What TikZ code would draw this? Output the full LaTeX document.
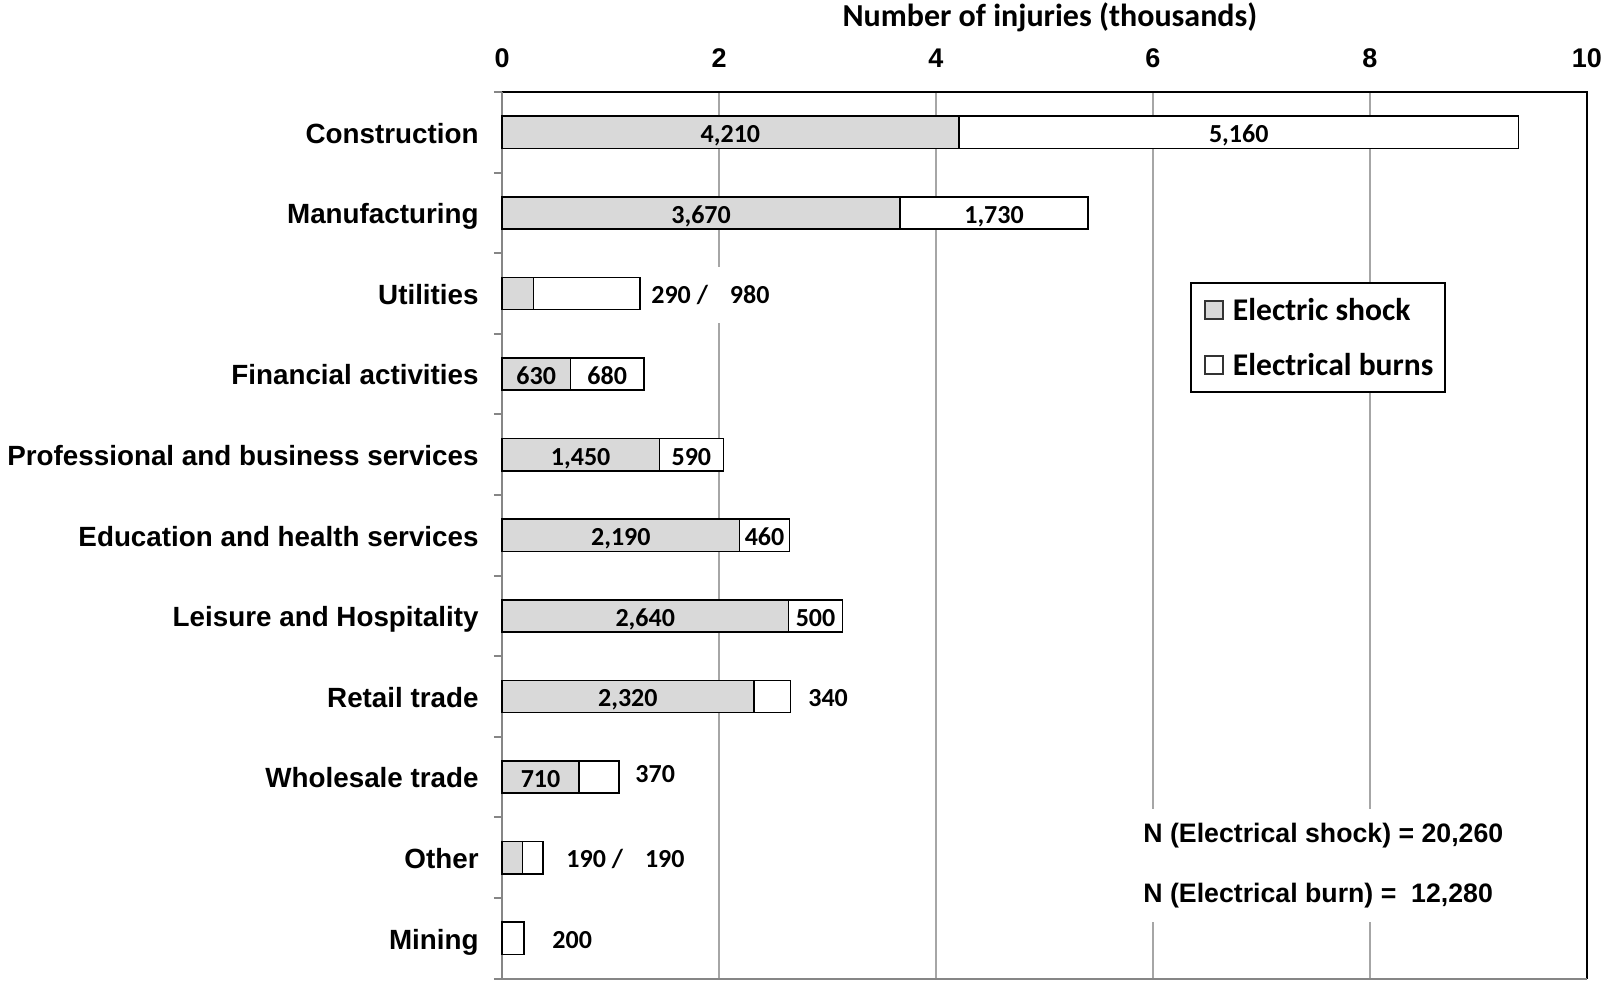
\documentclass[tikz,border=0pt]{standalone}
\usepackage{fontspec}
\usetikzlibrary{positioning}
\newfontfamily\arialfont{Liberation Sans}
\newfontfamily\calibrifont{Carlito}
\definecolor{shockgray}{HTML}{D9D9D9}
\definecolor{gridgray}{HTML}{A6A6A6}
\definecolor{axisgray}{HTML}{868686}

\begin{document}
\begin{tikzpicture}[x=54.25pt, y=-40.3pt,
    shock/.style={draw=black, line width=0.8pt, fill=shockgray},
    burn/.style={draw=black, line width=0.8pt, fill=white},
    gridline/.style={draw=gridgray, line width=0.8pt},
    axisline/.style={draw=axisgray, line width=1pt},
    frameline/.style={draw=black, line width=0.9pt},
    category/.style={anchor=base east, inner sep=0pt, font=\fontsize{13.9}{16}\selectfont\arialfont\bfseries},
    barlabel/.style={anchor=base, inner sep=0pt, font=\fontsize{13}{15}\selectfont\calibrifont\bfseries},
    outlabel/.style={inner sep=0pt, anchor=west, fill=white, minimum height=28pt,
        font=\fontsize{13}{15}\selectfont\calibrifont\bfseries},
    ticklabel/.style={inner sep=0pt, font=\fontsize{13.5}{16}\selectfont\arialfont\bfseries},
    titlelabel/.style={inner sep=0pt, font=\fontsize{16}{18}\selectfont\calibrifont\bfseries},
    keybox/.style={draw=black!80, line width=0.6pt, minimum size=9pt, inner sep=0pt},
    legendtext/.style={inner sep=0pt, anchor=west, font=\fontsize{15.8}{18}\selectfont\calibrifont\bfseries},
    totals/.style={anchor=west, align=left, fill=white, inner xsep=0pt, inner ysep=7pt,
        font=\fontsize{13.35}{30}\selectfont\arialfont\bfseries}]
    \useasboundingbox (-4.627,-1.1414) rectangle (10.203,11.067);

    % grid
    \draw[gridline] (2,0) -- (2,11);
    \draw[gridline] (4,0) -- (4,11);
    \draw[gridline] (6,0) -- (6,11);
    \draw[gridline] (8,0) -- (8,11);

    % frame and axes
    \draw[frameline] (0,0) -- (10,0) -- (10,11);
    \draw[axisline] (10,11) -- (0,11) -- (0,0);
    \draw[axisline] (-0.074,0) -- (0,0) (-0.074,1) -- (0,1) (-0.074,2) -- (0,2)
        (-0.074,3) -- (0,3) (-0.074,4) -- (0,4) (-0.074,5) -- (0,5)
        (-0.074,6) -- (0,6) (-0.074,7) -- (0,7) (-0.074,8) -- (0,8)
        (-0.074,9) -- (0,9) (-0.074,10) -- (0,10) (-0.074,11) -- (0,11);

    \node[titlelabel] (title) at (5.05,-0.924) {Number of injuries (thousands)};
    \node[ticklabel] (t0) at (0,-0.422) {0};
    \node[ticklabel] (t2) at (2,-0.422) {2};
    \node[ticklabel] (t4) at (4,-0.422) {4};
    \node[ticklabel] (t6) at (6,-0.422) {6};
    \node[ticklabel] (t8) at (8,-0.422) {8};
    \node[ticklabel] (t10) at (10,-0.422) {10};

    % bars
    \draw[shock] (0,0.3) rectangle (4.21,0.7);
    \draw[burn] (4.21,0.3) rectangle (9.37,0.7);
    \draw[shock] (0,1.3) rectangle (3.67,1.7);
    \draw[burn] (3.67,1.3) rectangle (5.40,1.7);
    \draw[shock] (0,2.3) rectangle (0.29,2.7);
    \draw[burn] (0.29,2.3) rectangle (1.27,2.7);
    \draw[shock] (0,3.3) rectangle (0.63,3.7);
    \draw[burn] (0.63,3.3) rectangle (1.31,3.7);
    \draw[shock] (0,4.3) rectangle (1.45,4.7);
    \draw[burn] (1.45,4.3) rectangle (2.04,4.7);
    \draw[shock] (0,5.3) rectangle (2.19,5.7);
    \draw[burn] (2.19,5.3) rectangle (2.65,5.7);
    \draw[shock] (0,6.3) rectangle (2.64,6.7);
    \draw[burn] (2.64,6.3) rectangle (3.14,6.7);
    \draw[shock] (0,7.3) rectangle (2.32,7.7);
    \draw[burn] (2.32,7.3) rectangle (2.66,7.7);
    \draw[shock] (0,8.3) rectangle (0.71,8.7);
    \draw[burn] (0.71,8.3) rectangle (1.08,8.7);
    \draw[shock] (0,9.3) rectangle (0.19,9.7);
    \draw[burn] (0.19,9.3) rectangle (0.38,9.7);
    \draw[burn] (0,10.3) rectangle (0.20,10.7);

    % categories
    \node[category] (construction) at (-0.212,0.635) {Construction};
    \node[category] (manufacturing) at (-0.212,1.635) {Manufacturing};
    \node[category] (utilities) at (-0.212,2.635) {Utilities};
    \node[category] (financial) at (-0.212,3.635) {Financial activities};
    \node[category] (professional) at (-0.212,4.635) {Professional and business services};
    \node[category] (education) at (-0.212,5.635) {Education and health services};
    \node[category] (leisure) at (-0.212,6.635) {Leisure and Hospitality};
    \node[category] (retail) at (-0.212,7.635) {Retail trade};
    \node[category] (wholesale) at (-0.212,8.635) {Wholesale trade};
    \node[category] (other) at (-0.212,9.635) {Other};
    \node[category] (mining) at (-0.212,10.635) {Mining};

    % values
    \node[barlabel] (vcons1) at (2.105,0.63) {4,210};
    \node[barlabel] (vcons2) at (6.79,0.63) {5,160};
    \node[barlabel] (vmanu1) at (1.835,1.63) {3,670};
    \node[barlabel] (vmanu2) at (4.535,1.63) {1,730};
    \node[outlabel] (vutil) at (1.373,2.52) {290 /\hspace{11pt}980};
    \node[barlabel] (vfin1) at (0.315,3.63) {630};
    \node[barlabel] (vfin2) at (0.97,3.63) {680};
    \node[barlabel] (vprof1) at (0.725,4.63) {1,450};
    \node[barlabel] (vprof2) at (1.745,4.63) {590};
    \node[barlabel] (vedu1) at (1.095,5.63) {2,190};
    \node[barlabel] (vedu2) at (2.42,5.63) {460};
    \node[barlabel] (vleis1) at (1.32,6.63) {2,640};
    \node[barlabel] (vleis2) at (2.89,6.63) {500};
    \node[barlabel] (vret1) at (1.16,7.63) {2,320};
    \node[outlabel] (vret2) at (2.82,7.52) {340};
    \node[barlabel] (vwhol1) at (0.355,8.63) {710};
    \node[outlabel] (vwhol2) at (1.226,8.46) {370};
    \node[outlabel] (voth) at (0.59,9.52) {190 /\hspace{11pt}190};
    \node[outlabel] (vmin) at (0.461,10.52) {200};

    % legend
    \draw[frameline, fill=white] (6.350,2.370) rectangle (8.691,3.722);
    \node[keybox, fill=shockgray] (keyshock) at (6.562,2.705) {};
    \node[keybox, fill=white] (keyburn) at (6.562,3.387) {};
    \node[legendtext, right=4.5pt of keyshock] (legshock) {Electric shock};
    \node[legendtext, right=4.5pt of keyburn] (legburn) {Electrical burns};

    \node[totals] (ntotals) at (5.908,9.60) {N (Electrical shock) = 20,260\\N (Electrical burn) =\ \ 12,280};
\end{tikzpicture}
\end{document}
